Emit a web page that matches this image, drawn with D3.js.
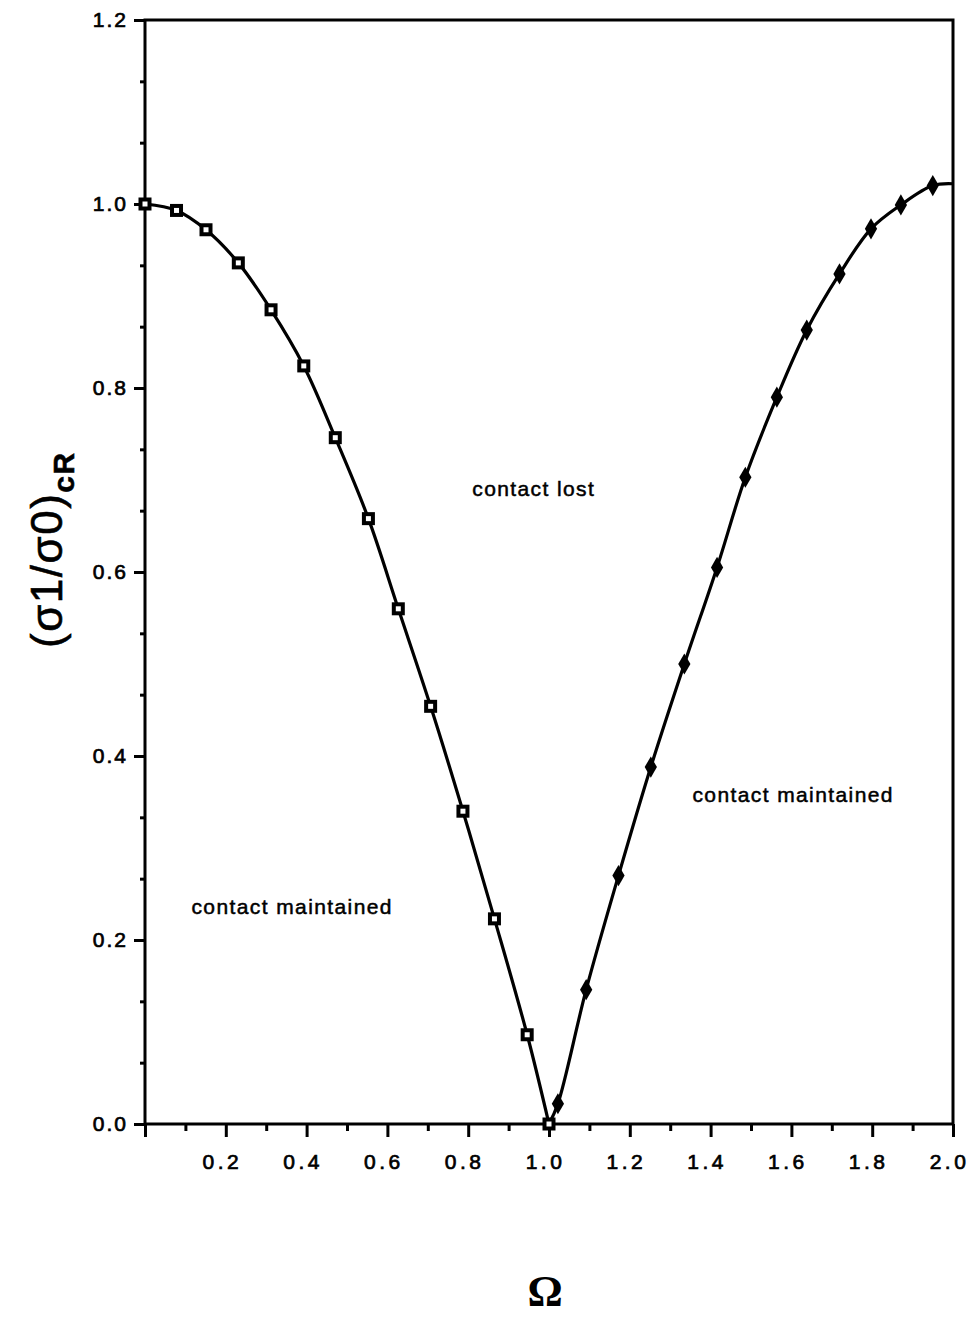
<!DOCTYPE html>
<html>
<head>
<meta charset="utf-8">
<script src="https://cdn.jsdelivr.net/npm/d3@7"></script>
<style>
  html, body { margin: 0; padding: 0; background: #fff; }
  svg { display: block; }
  .tick text { font-family: "Liberation Sans", Arial, sans-serif; fill: #000; }
</style>
</head>
<body>
<div id="chart"></div>
<script>
// values
const omegaLeft = [0.0, 0.078, 0.151, 0.231, 0.312, 0.393, 0.471, 0.553, 0.627, 0.707, 0.787, 0.865, 0.946, 1.0];
const sigmaLeft = [1.0, 0.993, 0.972, 0.936, 0.885, 0.824, 0.746, 0.658, 0.560, 0.454, 0.340, 0.223, 0.097, 0.0];
const omegaRight = [1.022, 1.092, 1.172, 1.252, 1.335, 1.416, 1.486, 1.564, 1.638, 1.719, 1.797, 1.871, 1.950];
const sigmaRight = [0.022, 0.146, 0.270, 0.388, 0.500, 0.605, 0.703, 0.790, 0.863, 0.924, 0.973, 0.999, 1.020];
// curve ends (line only)
const curveStart = [1.0, 0.0];
const curveEnd = [2.0, 1.022];

const xMajor = [0.2, 0.4, 0.6, 0.8, 1.0, 1.2, 1.4, 1.6, 1.8, 2.0];
const xLabels = ['0.2', '0.4', '0.6', '0.8', '1.0', '1.2', '1.4', '1.6', '1.8', '2.0'];
const yMajor = [0.0, 0.2, 0.4, 0.6, 0.8, 1.0, 1.2];
const yLabels = ['0.0', '0.2', '0.4', '0.6', '0.8', '1.0', '1.2'];

const notes = [
  { text: 'contact lost', x: 0.81, y: 0.683 },
  { text: 'contact maintained', x: 1.355, y: 0.35 },
  { text: 'contact maintained', x: 0.115, y: 0.228 }
];

const width = 975, height = 1318;
const x = d3.scaleLinear().domain([0, 2]).range([145, 953]);
const y = d3.scaleLinear().domain([0, 1.2]).range([1124, 20]);

const svg = d3.select('#chart').append('svg')
  .attr('width', width)
  .attr('height', height);

// frame
svg.append('rect')
  .attr('x', x(0)).attr('y', y(1.2))
  .attr('width', x(2) - x(0)).attr('height', y(0) - y(1.2))
  .attr('fill', 'none').attr('stroke', '#000').attr('stroke-width', 3);

// x axis: minor then major
svg.append('g')
  .attr('transform', `translate(0,${y(0)})`)
  .call(d3.axisBottom(x).tickValues(d3.range(1, 20, 2).map(d => d / 10)).tickSize(7).tickFormat(''))
  .call(g => g.select('.domain').remove())
  .call(g => g.selectAll('line').attr('stroke-width', 3));

svg.append('g')
  .attr('transform', `translate(0,${y(0)})`)
  .call(d3.axisBottom(x).tickValues([0].concat(xMajor)).tickSize(13).tickPadding(17)
    .tickFormat(d => { const i = xMajor.indexOf(d); return i < 0 ? '' : xLabels[i]; }))
  .call(g => g.select('.domain').remove())
  .call(g => g.selectAll('line').attr('stroke-width', 3))
  .call(g => g.selectAll('text').attr('font-size', 21).attr('letter-spacing', 3.5)
    .attr('dx', -4).attr('stroke', '#000').attr('stroke-width', 0.7));

// y axis: minor then major
svg.append('g')
  .attr('transform', `translate(${x(0)},0)`)
  .call(d3.axisLeft(y).tickValues(d3.range(0, 19).map(d => d / 15)).tickSize(5).tickFormat(''))
  .call(g => g.select('.domain').remove())
  .call(g => g.selectAll('line').attr('stroke-width', 3));

svg.append('g')
  .attr('transform', `translate(${x(0)},0)`)
  .call(d3.axisLeft(y).tickValues(yMajor).tickSize(11).tickPadding(6)
    .tickFormat((d, i) => yLabels[i]))
  .call(g => g.select('.domain').remove())
  .call(g => g.selectAll('line').attr('stroke-width', 3))
  .call(g => g.selectAll('text').attr('font-size', 21).attr('letter-spacing', 2)
    .attr('stroke', '#000').attr('stroke-width', 0.7));

// curve
const line = d3.line().x(d => x(d[0])).y(d => y(d[1])).curve(d3.curveCatmullRom.alpha(0.5));
const leftPts = omegaLeft.map((o, i) => [o, sigmaLeft[i]]);
const rightPts = [curveStart].concat(omegaRight.map((o, i) => [o, sigmaRight[i]]), [curveEnd]);

[leftPts, rightPts].forEach(pts => {
  svg.append('path')
    .datum(pts)
    .attr('d', line)
    .attr('fill', 'none')
    .attr('stroke', '#000')
    .attr('stroke-width', 3.2);
});

// open squares
svg.append('g').selectAll('rect')
  .data(leftPts)
  .join('rect')
  .attr('x', d => x(d[0]) - 4.5)
  .attr('y', d => y(d[1]) - 4.5)
  .attr('width', 9).attr('height', 9)
  .attr('fill', '#fff').attr('stroke', '#000').attr('stroke-width', 4);

// filled diamonds
svg.append('g').selectAll('path')
  .data(omegaRight.map((o, i) => [o, sigmaRight[i]]))
  .join('path')
  .attr('transform', d => `translate(${x(d[0])},${y(d[1])})`)
  .attr('d', d3.symbol().type(d3.symbolDiamond).size(130))
  .attr('fill', '#000');

// region notes
svg.append('g').selectAll('text')
  .data(notes)
  .join('text')
  .attr('x', d => x(d.x))
  .attr('y', d => y(d.y))
  .attr('font-family', '"Liberation Sans", Arial, sans-serif')
  .attr('font-size', 21)
  .attr('letter-spacing', 1.4)
  .attr('stroke', '#000').attr('stroke-width', 0.5)
  .text(d => d.text);

// y title
const yt = svg.append('text')
  .attr('transform', 'translate(62,648) rotate(-90)')
  .attr('font-family', '"Liberation Sans", Arial, sans-serif')
  .attr('font-size', 44)
  .attr('letter-spacing', 1.5)
  .attr('stroke', '#000').attr('stroke-width', 0.6);
yt.append('tspan').text('(σ1/σ0)');
yt.append('tspan').attr('font-size', 30).attr('font-weight', 'bold').attr('dy', 12).text('cR');

// x title
svg.append('text')
  .attr('x', 545).attr('y', 1306)
  .attr('text-anchor', 'middle')
  .attr('font-family', '"Liberation Serif", "Times New Roman", serif')
  .attr('font-size', 44)
  .attr('font-weight', 'bold')
  .text('Ω');
</script>
</body>
</html>
